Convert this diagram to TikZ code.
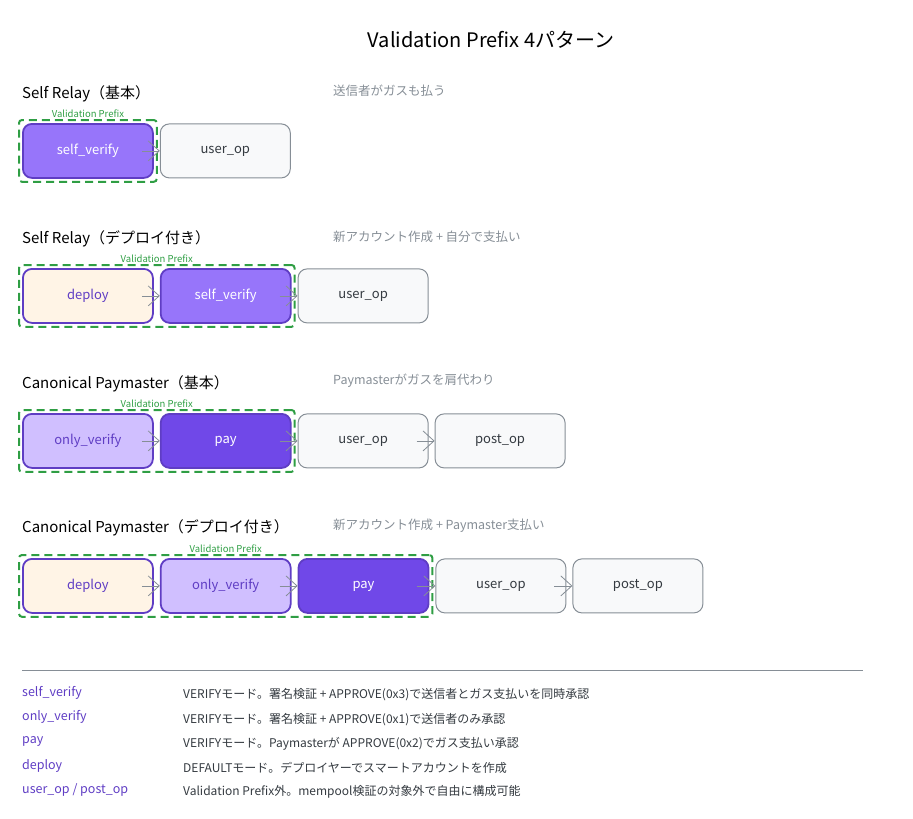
\documentclass[tikz,border=0pt]{standalone}
\usepackage{fontspec}
\setmainfont{Noto Sans CJK JP}
\usetikzlibrary{positioning,fit,arrows.meta}

\definecolor{violetline}{HTML}{5F3DC4}
\definecolor{violetmid}{HTML}{9775FA}
\definecolor{violetpale}{HTML}{D0BFFF}
\definecolor{violetdeep}{HTML}{7048E8}
\definecolor{peach}{HTML}{FFF4E6}
\definecolor{paper}{HTML}{F8F9FA}
\definecolor{greyline}{HTML}{868E96}
\definecolor{greentxt}{HTML}{2F9E44}
\definecolor{inktxt}{HTML}{343A40}

\tikzset{
    opbox/.style={draw, rounded corners=9pt, line width=1.8pt, minimum width=130pt,
        minimum height=54pt, inner sep=0pt, font=\fontsize{13}{15}\selectfont},
    selfbox/.style={opbox, draw=violetline, fill=violetmid, text=white},
    onlybox/.style={opbox, draw=violetline, fill=violetpale, text=violetline},
    paybox/.style={opbox, draw=violetline, fill=violetdeep, text=white},
    deploybox/.style={opbox, draw=violetline, fill=peach, text=violetline},
    userbox/.style={opbox, draw=greyline, line width=1pt, fill=paper, text=inktxt},
    flow/.style={draw=greyline, line width=0.8pt, shorten <=-12pt,
        -{Straight Barb[length=11pt,width=20pt]}},
    prefixframe/.style={draw=greentxt, dashed, dash pattern=on 8pt off 5pt, line width=2pt,
        rounded corners=3pt, inner sep=3pt},
    prefixlabel/.style={text=greentxt, font=\fontsize{9.5}{11}\selectfont, inner sep=1pt},
    rowtitle/.style={anchor=west, inner sep=0pt, text=black, font=\fontsize{15}{17}\selectfont},
    rownote/.style={anchor=west, inner sep=0pt, text=greyline, font=\fontsize{12.5}{15}\selectfont},
    keytxt/.style={anchor=west, inner sep=0pt, text=violetline, font=\fontsize{12.5}{15}\selectfont},
    keydesc/.style={anchor=west, inner sep=0pt, text=inktxt, font=\fontsize{12}{15}\selectfont},
    node distance=6pt
}

\begin{document}
\begin{tikzpicture}[x=1pt, y=-1pt]
    \useasboundingbox (0,0) rectangle (913,819);

    % Heading:
    \node[font=\fontsize{20}{24}\selectfont, text=black] (head) at (491,40) {Validation Prefix 4パターン};

    % Self Relay (basic)
    \node[rowtitle] (t1) at (22,94) {Self Relay（基本）};
    \node[rownote] (n1) at (333,91) {送信者がガスも払う};
    \node[selfbox, anchor=north west] (a1) at (22,123) {self\_verify};
    \node[userbox, right=of a1] (a2) {user\_op};
    \node[prefixframe, fit=(a1)] (p1) {};
    \node[prefixlabel, above=0pt of p1] (l1) {Validation Prefix};
    \draw[flow] (a1) -- (a2);

    % Self Relay with deploy
    \node[rowtitle] (t2) at (22,239) {Self Relay（デプロイ付き）};
    \node[rownote] (n2) at (333,237) {新アカウント作成 + 自分で支払い};
    \node[deploybox, anchor=north west] (b1) at (22,268) {deploy};
    \node[selfbox, right=of b1] (b2) {self\_verify};
    \node[userbox, right=of b2] (b3) {user\_op};
    \node[prefixframe, fit=(b1)(b2)] (p2) {};
    \node[prefixlabel, above=0pt of p2] (l2) {Validation Prefix};
    \draw[flow] (b1) -- (b2);
    \draw[flow] (b2) -- (b3);

    % Canonical Paymaster (basic)
    \node[rowtitle] (t3) at (22,384) {Canonical Paymaster（基本）};
    \node[rownote] (n3) at (333,381) {Paymasterがガスを肩代わり};
    \node[onlybox, anchor=north west] (c1) at (22,413) {only\_verify};
    \node[paybox, right=of c1] (c2) {pay};
    \node[userbox, right=of c2] (c3) {user\_op};
    \node[userbox, right=of c3] (c4) {post\_op};
    \node[prefixframe, fit=(c1)(c2)] (p3) {};
    \node[prefixlabel, above=0pt of p3] (l3) {Validation Prefix};
    \foreach \u/\v in {c1/c2, c2/c3, c3/c4}
        \draw[flow] (\u) -- (\v);

    % Canonical Paymaster with deploy
    \node[rowtitle] (t4) at (22,528) {Canonical Paymaster（デプロイ付き）};
    \node[rownote] (n4) at (333,526) {新アカウント作成 + Paymaster支払い};
    \node[deploybox, anchor=north west] (d1) at (22,558) {deploy};
    \node[onlybox, right=of d1] (d2) {only\_verify};
    \node[paybox, right=of d2] (d3) {pay};
    \node[userbox, right=of d3] (d4) {user\_op};
    \node[userbox, right=of d4] (d5) {post\_op};
    \node[prefixframe, fit=(d1)(d2)(d3)] (p4) {};
    \node[prefixlabel, above=0pt of p4] (l4) {Validation Prefix};
    \foreach \u/\v in {d1/d2, d2/d3, d3/d4, d4/d5}
        \draw[flow] (\u) -- (\v);

    % Legend
    \draw[greyline, line width=0.6pt] (22,670) -- (863,670);
    \foreach \k/\t [count=\i] in {
        {self\_verify}/{VERIFYモード。署名検証 + APPROVE(0x3)で送信者とガス支払いを同時承認},
        {only\_verify}/{VERIFYモード。署名検証 + APPROVE(0x1)で送信者のみ承認},
        {pay}/{VERIFYモード。Paymasterが APPROVE(0x2)でガス支払い承認},
        {deploy}/{DEFAULTモード。デプロイヤーでスマートアカウントを作成},
        {user\_op / post\_op}/{Validation Prefix外。mempool検証の対象外で自由に構成可能}}{
        \node[keytxt] (key\i) at (22,{693+24.3*(\i-1)}) {\k};
        \node[keydesc] (desc\i) at (183,{695+24.3*(\i-1)}) {\t};
    }
\end{tikzpicture}
\end{document}
